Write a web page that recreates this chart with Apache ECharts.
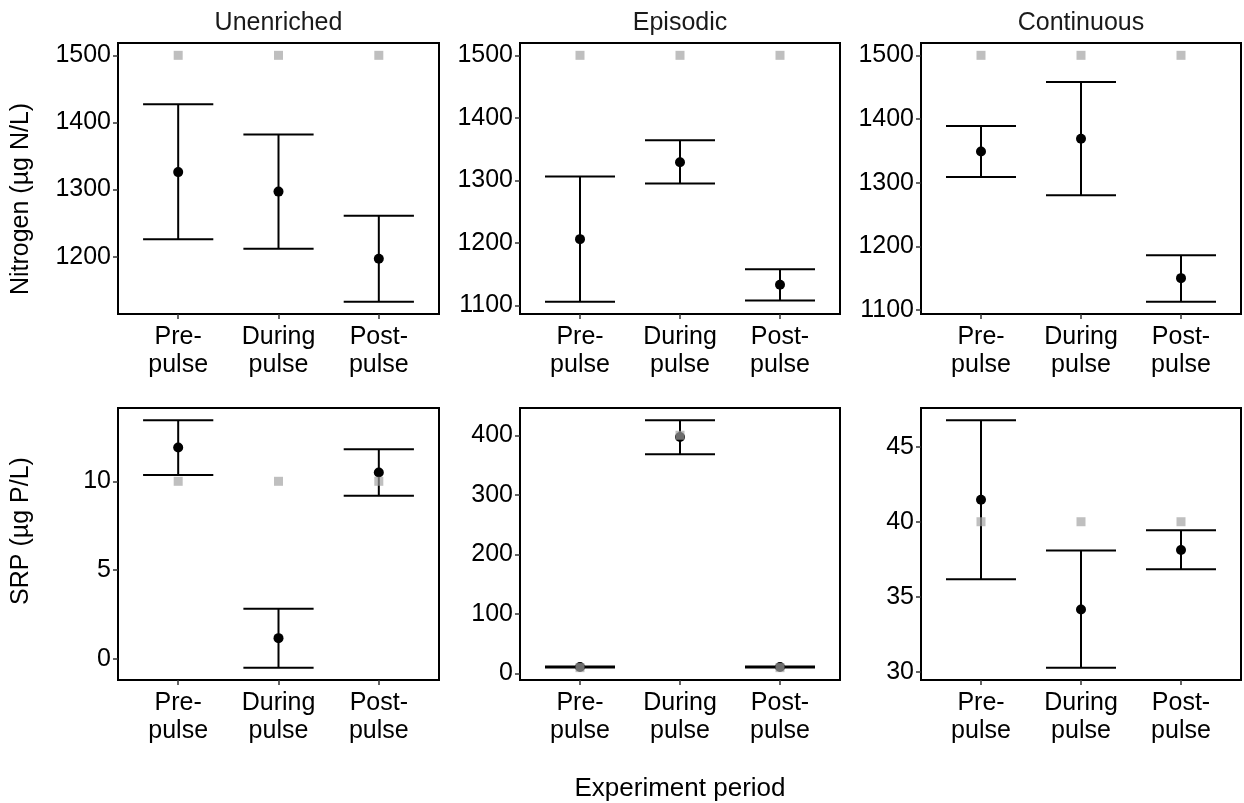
<!DOCTYPE html>
<html>
<head>
<meta charset="utf-8">
<script src="https://cdn.jsdelivr.net/npm/echarts@6/dist/echarts.min.js"></script>
<style>
  html, body { margin: 0; padding: 0; background: #fff; }
  #main { width: 1244px; height: 803px; }
</style>
</head>
<body>
<div id="main"></div>
<script>
// data
const periods = ['Pre-\npulse', 'During\npulse', 'Post-\npulse'];
const treatments = ['Unenriched', 'Episodic', 'Continuous'];

// Nitrogen (ug N/L), one row per treatment, one value per period
const nMean = [[1326, 1297, 1197], [1206, 1329, 1133], [1349, 1369, 1150]];
const nLow = [[1226, 1212, 1133], [1106, 1295, 1108], [1309, 1280, 1113]];
const nHigh = [[1427, 1382, 1261], [1306, 1364, 1158], [1389, 1458, 1186]];
const nTarget = [[1500, 1500, 1500], [1500, 1500, 1500], [1500, 1500, 1500]];
const nTicks = [[1200, 1300, 1400, 1500], [1100, 1200, 1300, 1400, 1500], [1100, 1200, 1300, 1400, 1500]];

// SRP (ug P/L)
const pMean = [[11.9, 1.17, 10.5], [11.2, 397, 11.2], [41.47, 34.15, 38.12]];
const pLow = [[10.36, -0.49, 9.18], [10.4, 368, 10.4], [36.16, 30.27, 36.83]];
const pHigh = [[13.43, 2.83, 11.8], [12.0, 425, 12.0], [46.76, 38.08, 39.44]];
const pTarget = [[10, 10, 10], [10, 400, 10], [40, 40, 40]];
const pTicks = [[0, 5, 10], [0, 100, 200, 300, 400], [30, 35, 40, 45]];

const FONT = '"Liberation Sans", Arial, sans-serif';
const capHalf = 0.35;

// panel layout
const lefts = [118, 520, 921];
const widths = [321, 320, 320];
const tops = [43, 408];
const heights = [271, 272];

const grid = [], xAxis = [], yAxis = [], series = [];

function errorBar(params, api) {
  const x = api.value(0), lo = api.value(1), hi = api.value(2);
  const bot = api.coord([x, lo]), top = api.coord([x, hi]);
  const tl = api.coord([x - capHalf, hi]), tr = api.coord([x + capHalf, hi]);
  const bl = api.coord([x - capHalf, lo]), br = api.coord([x + capHalf, lo]);
  const st = { stroke: '#000', lineWidth: 2 };
  return {
    type: 'group',
    children: [
      { type: 'line', shape: { x1: top[0], y1: top[1], x2: bot[0], y2: bot[1] }, style: st },
      { type: 'line', shape: { x1: tl[0], y1: tl[1], x2: tr[0], y2: tr[1] }, style: st },
      { type: 'line', shape: { x1: bl[0], y1: bl[1], x2: br[0], y2: br[1] }, style: st }
    ]
  };
}

for (let r = 0; r < 2; r++) {
  for (let c = 0; c < 3; c++) {
    const i = r * 3 + c;
    const mean = r ? pMean[c] : nMean[c];
    const low = r ? pLow[c] : nLow[c];
    const high = r ? pHigh[c] : nHigh[c];
    const target = r ? pTarget[c] : nTarget[c];
    const ticks = r ? pTicks[c] : nTicks[c];

    // ggplot style limits: data range expanded by 5%
    const lo = Math.min(...low, ...target), hi = Math.max(...high, ...target);
    const span = hi - lo;

    grid.push({
      left: lefts[c], top: tops[r], width: widths[c], height: heights[r],
      show: true, borderColor: '#000', borderWidth: 2, backgroundColor: 'transparent',
      outerBoundsMode: 'none'
    });
    xAxis.push({
      type: 'value', gridIndex: i, min: 0.4, max: 3.6,
      axisLine: { show: false, onZero: false },
      splitLine: { show: false },
      axisTick: { show: true, customValues: [1, 2, 3], length: 5, lineStyle: { color: '#333', width: 1.5 } },
      axisLabel: {
        customValues: [1, 2, 3], margin: 9,
        formatter: v => periods[Math.round(v) - 1],
        fontFamily: FONT, fontSize: 25, lineHeight: 28, color: '#000'
      }
    });
    yAxis.push({
      type: 'value', gridIndex: i, min: lo - 0.05 * span, max: hi + 0.05 * span,
      axisLine: { show: false, onZero: false },
      splitLine: { show: false },
      axisTick: { show: true, customValues: ticks, length: 5, lineStyle: { color: '#333', width: 1.5 } },
      axisLabel: {
        customValues: ticks, margin: 7, formatter: v => String(v),
        fontFamily: FONT, fontSize: 25, color: '#000'
      }
    });

    series.push({
      type: 'custom', xAxisIndex: i, yAxisIndex: i, z: 2,
      renderItem: errorBar,
      data: mean.map((m, k) => [k + 1, low[k], high[k]])
    });
    series.push({
      type: 'scatter', xAxisIndex: i, yAxisIndex: i, z: 3,
      symbol: 'circle', symbolSize: 10,
      itemStyle: { color: '#000', opacity: 1 },
      data: mean.map((m, k) => [k + 1, m])
    });
    series.push({
      type: 'scatter', xAxisIndex: i, yAxisIndex: i, z: 4,
      symbol: 'rect', symbolSize: 9,
      itemStyle: { color: '#a0a0a0', opacity: 0.68 },
      data: target.map((t, k) => [k + 1, t])
    });
  }
}

const graphic = treatments.map((t, c) => ({
  type: 'text', x: lefts[c] + widths[c] / 2, y: 23,
  style: { text: t, fontFamily: FONT, fontSize: 25, fill: '#1a1a1a', textAlign: 'center', textVerticalAlign: 'middle' }
}));
graphic.push({
  type: 'text', x: 21, y: 199, rotation: Math.PI / 2,
  style: { text: 'Nitrogen (µg N/L)', fontFamily: FONT, fontSize: 25, fill: '#000', textAlign: 'center', textVerticalAlign: 'middle' }
});
graphic.push({
  type: 'text', x: 21, y: 531, rotation: Math.PI / 2,
  style: { text: 'SRP (µg P/L)', fontFamily: FONT, fontSize: 25, fill: '#000', textAlign: 'center', textVerticalAlign: 'middle' }
});
graphic.push({
  type: 'text', x: 680, y: 789,
  style: { text: 'Experiment period', fontFamily: FONT, fontSize: 26, fill: '#000', textAlign: 'center', textVerticalAlign: 'middle' }
});

const chart = echarts.init(document.getElementById('main'));
chart.setOption({
  animation: false,
  backgroundColor: '#fff',
  grid: grid,
  xAxis: xAxis,
  yAxis: yAxis,
  series: series,
  graphic: graphic
});
</script>
</body>
</html>
